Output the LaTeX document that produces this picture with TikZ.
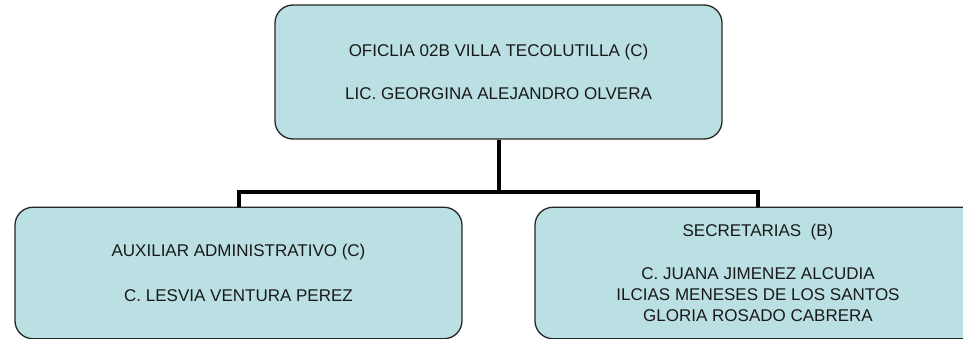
\documentclass[tikz,border=0pt]{standalone}
\usepackage{fontspec}
\setmainfont{Liberation Sans}
\definecolor{boxfill}{HTML}{BBE0E3}
\begin{document}
\begin{tikzpicture}[x=1pt,y=-1pt,
  orgbox/.style={draw=black!85, line width=1.3pt, fill=boxfill, rounded corners=18pt,
    inner sep=0pt, align=center, font=\fontsize{17}{21}\selectfont, text=black!90},
  conn/.style={line width=4pt, black}]
\useasboundingbox (0,0) rectangle (963,339);
\node[orgbox, minimum width=447pt, minimum height=134pt] (top) at (498.5,72)
  {OFICLIA 02B VILLA TECOLUTILLA (C)\\[22pt]LIC. GEORGINA ALEJANDRO OLVERA};
\node[orgbox, minimum width=447pt, minimum height=131.5pt] (left) at (238.5,273)
  {AUXILIAR ADMINISTRATIVO (C)\\[24pt]C. LESVIA VENTURA PEREZ};
\node[orgbox, minimum width=446pt, minimum height=131.5pt] (right) at (758,273)
  {SECRETARIAS\ \ (B)\\[22pt]C. JUANA JIMENEZ ALCUDIA\\ILCIAS MENESES DE LOS SANTOS\\GLORIA ROSADO CABRERA};
\coordinate (bus) at (498.5,192);
\draw[conn] (top.south) -- (bus);
\draw[conn] (left.north) |- (bus) -| (right.north);
\end{tikzpicture}
\end{document}
